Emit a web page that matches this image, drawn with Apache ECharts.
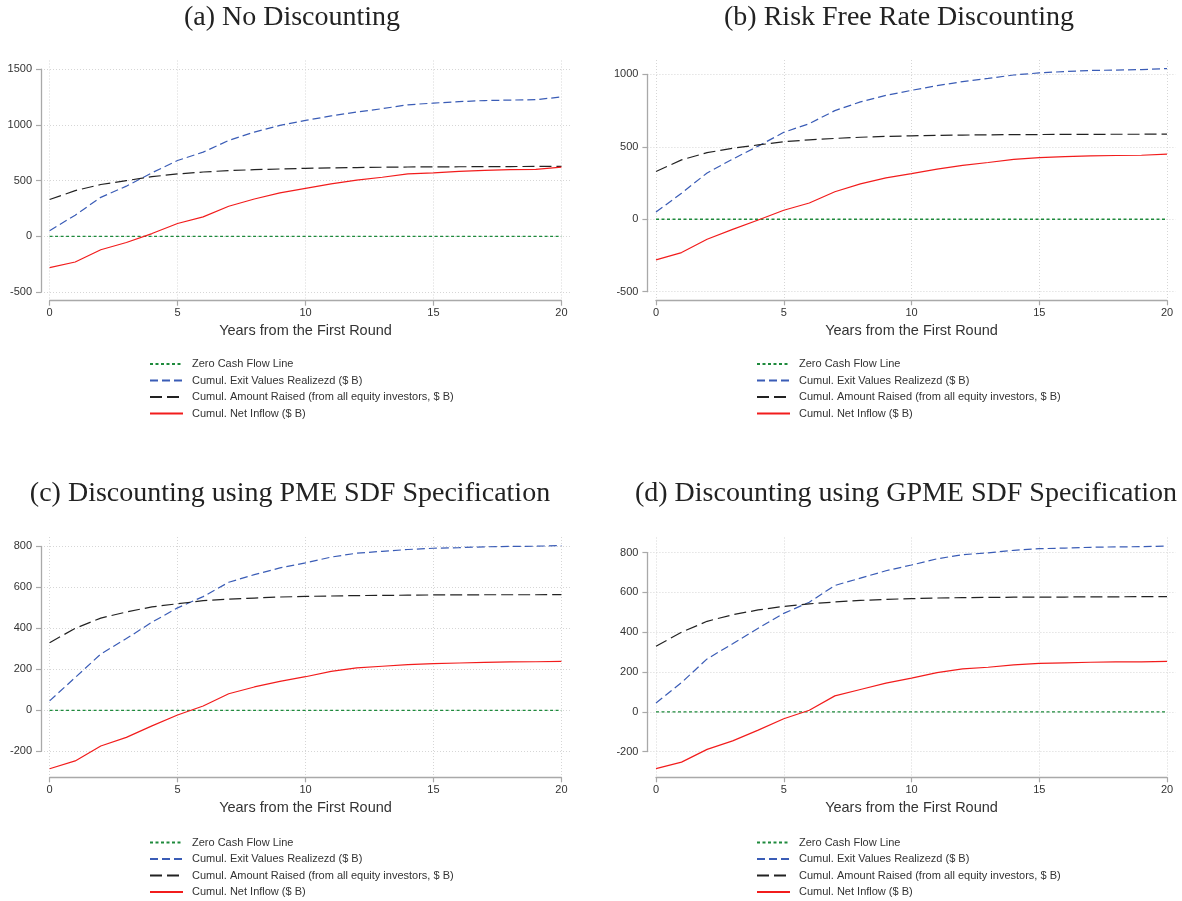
<!DOCTYPE html>
<html><head><meta charset="utf-8">
<script src="https://cdn.jsdelivr.net/npm/echarts@6/dist/echarts.min.js"></script>
<style>html,body{margin:0;padding:0;background:#fff}#c{width:1182px;height:901px}</style>
</head><body><div id="c"></div>
<script>
// ---------------- DATA ----------------
const years = [0,1,2,3,4,5,6,7,8,9,10,11,12,13,14,15,16,17,18,19,20];
const zeroLine = [0,0,0,0,0,0,0,0,0,0,0,0,0,0,0,0,0,0,0,0,0];
const xTicks = [0,5,10,15,20];
const seriesNames = ['Zero Cash Flow Line','Cumul. Exit Values Realizezd ($ B)','Cumul. Amount Raised (from all equity investors, $ B)','Cumul. Net Inflow ($ B)'];

// (a) No Discounting
const aExit   = [50,190,350,450,570,680,755,860,935,995,1040,1080,1115,1145,1180,1195,1208,1218,1222,1226,1250];
const aRaised = [330,410,465,500,535,560,577,590,598,604,610,614,617,620,622,623,624,625,626,627,628];
const aNet    = [-280,-230,-120,-55,25,115,175,270,335,390,430,470,505,530,560,570,582,592,598,600,620];
const aYTicks = [-500,0,500,1000,1500];

// (b) Risk Free Rate Discounting
const bExit   = [50,180,320,415,505,600,660,750,810,855,890,922,950,972,996,1010,1020,1027,1030,1033,1040];
const bRaised = [330,410,460,490,513,535,548,558,566,572,576,579,581,583,584,585,586,586,587,587,588];
const bNet    = [-280,-230,-138,-70,-5,62,112,190,244,286,315,346,372,392,414,425,433,438,440,442,450];
const bYTicks = [-500,0,500,1000];

// (c) PME SDF
const cExit   = [46,160,275,350,430,500,555,625,662,695,720,748,767,776,785,791,794,798,800,801,804];
const cRaised = [330,400,450,480,505,520,535,543,548,553,556,558,560,561,562,563,563,564,564,564,565];
const cNet    = [-285,-247,-174,-132,-76,-23,21,81,114,141,164,190,207,215,223,228,231,234,236,237,239];
const cYTicks = [-200,0,200,400,600,800];

// (d) GPME SDF
const dExit   = [44,147,266,342,420,495,551,635,672,709,738,769,790,799,812,820,823,827,829,830,833];
const dRaised = [330,400,455,488,512,530,543,552,560,565,569,572,574,575,576,577,577,578,578,579,579];
const dNet    = [-286,-253,-189,-146,-92,-35,8,80,112,144,169,197,216,224,236,243,246,249,251,251,254];
const dYTicks = [-200,0,200,400,600,800];

// ---------------- LAYOUT / STYLE ----------------
const panels = [
  {title:'(a) No Discounting', titleX:292, titleY:4, box:{l:41,r:570,t:60.5,b:300.7}, legendX:149, legendY:358.5,
   exit:aExit, raised:aRaised, net:aNet, yTicks:aYTicks},
  {title:'(b) Risk Free Rate Discounting', titleX:899, titleY:4, box:{l:647.4,r:1175.6,t:60,b:300.3}, legendX:756, legendY:358.5,
   exit:bExit, raised:bRaised, net:bNet, yTicks:bYTicks},
  {title:'(c) Discounting using PME SDF Specification', titleX:290, titleY:480, box:{l:41,r:570,t:537,b:777.3}, legendX:149, legendY:837,
   exit:cExit, raised:cRaised, net:cNet, yTicks:cYTicks},
  {title:'(d) Discounting using GPME SDF Specification', titleX:906, titleY:480, box:{l:647.4,r:1175.6,t:537.5,b:777.3}, legendX:756, legendY:837,
   exit:dExit, raised:dRaised, net:dNet, yTicks:dYTicks}
];
const W = 1182, H = 901;
const PAD = 8.6;
const sans = 'Liberation Sans, Arial, sans-serif';
const COL = {green:'#1e8a3c', blue:'#3a5cb6', black:'#222222', red:'#f21c1c', axis:'#a9a9a9', grid:'#d6d6d6', text:'#333333'};
const plain = v => String(v);

const grid = [], xAxis = [], yAxis = [], series = [], title = [], legend = [];

panels.forEach((p, i) => {
  const bx = p.box;
  const bw = bx.r - bx.l, bh = bx.b - bx.t;
  const all = p.exit.concat(p.raised, p.net, zeroLine, p.yTicks);
  const yLo = Math.min(...all), yHi = Math.max(...all);
  const ppu = (bh - 2*PAD) / (yHi - yLo);
  const yMin = yLo - PAD/ppu, yMax = yHi + PAD/ppu;
  const xLo = xTicks[0], xHi = xTicks[xTicks.length-1];
  const ppx = (bw - 2*PAD) / (xHi - xLo);
  const xMin = xLo - PAD/ppx, xMax = xHi + PAD/ppx;
  const tMin = p.yTicks[0], tMax = p.yTicks[p.yTicks.length-1];
  const yInt = p.yTicks[1] - p.yTicks[0];

  // plot region grid (gridlines + series)
  const gp = grid.length;
  grid.push({left:bx.l, top:bx.t, width:bw, height:bh, containLabel:false});
  xAxis.push({gridIndex:gp, type:'value', min:xMin, max:xMax,
    axisLine:{show:false, onZero:false}, axisTick:{show:false, customValues:xTicks}, axisLabel:{show:false, customValues:xTicks},
    splitLine:{show:true, lineStyle:{color:COL.grid, type:[1,2], width:1}}});
  yAxis.push({gridIndex:gp, type:'value', min:yMin, max:yMax,
    axisLine:{show:false, onZero:false}, axisTick:{show:false, customValues:p.yTicks}, axisLabel:{show:false, customValues:p.yTicks},
    splitLine:{show:true, lineStyle:{color:COL.grid, type:[1,2], width:1}}});

  // axis grid spanning tick range
  const ga = grid.length;
  const aTop = bx.t + (yMax - tMax)*ppu;
  const aBot = bx.t + (yMax - tMin)*ppu;
  grid.push({left:bx.l + PAD, top:aTop, width:bw - 2*PAD, height:aBot - aTop, containLabel:false});
  xAxis.push({gridIndex:ga, type:'value', min:xLo, max:xHi, interval:xTicks[1]-xTicks[0], position:'bottom',
    offset: bx.b - aBot,
    name:'Years from the First Round', nameLocation:'middle', nameGap:23,
    nameTextStyle:{fontFamily:sans, fontSize:14.5, color:COL.text},
    axisLine:{show:true, onZero:false, lineStyle:{color:COL.axis, width:1.3}},
    axisTick:{show:true, inside:false, length:5, lineStyle:{color:COL.axis, width:1.2}},
    axisLabel:{show:true, margin:7, fontFamily:sans, fontSize:11, color:COL.text, formatter:plain},
    splitLine:{show:false}});
  yAxis.push({gridIndex:ga, type:'value', min:tMin, max:tMax, interval:yInt, position:'left',
    offset: PAD,
    axisLine:{show:true, onZero:false, lineStyle:{color:COL.axis, width:1.3}},
    axisTick:{show:true, inside:false, length:5, lineStyle:{color:COL.axis, width:1.2}},
    axisLabel:{show:true, margin:9, fontFamily:sans, fontSize:11, color:COL.text, formatter:plain},
    splitLine:{show:false}});

  const mk = (name, vals, color, type, width, z) => ({
    name, type:'line', xAxisIndex:gp, yAxisIndex:gp, data: years.map((y,k)=>[y, vals[k]]),
    symbol:'none', smooth:false, animation:false, z,
    lineStyle:{color, type, width}, itemStyle:{color}, emphasis:{disabled:true}
  });
  series.push(mk(seriesNames[0], zeroLine, COL.green, [3,2.5], 1.3, 2));
  series.push(mk(seriesNames[1], p.exit, COL.blue, [8,4], 1.2, 3));
  series.push(mk(seriesNames[2], p.raised, COL.black, [12,5], 1.2, 4));
  series.push(mk(seriesNames[3], p.net, COL.red, 'solid', 1.2, 5));

  title.push({text:p.title, left:p.titleX, top:p.titleY, textAlign:'center', padding:0,
    textStyle:{fontFamily:'Liberation Serif, serif', fontWeight:'normal', fontSize:28, color:'#222'}});
  legend.push({orient:'vertical', left:p.legendX, top:p.legendY, padding:0, itemWidth:33, itemHeight:14, itemGap:5.3,
    selectedMode:false, data:seriesNames, itemStyle:{opacity:0, borderWidth:0},
    textStyle:{fontFamily:sans, fontSize:11, color:COL.text, padding:[0,0,0,4]}});
});

const chart = echarts.init(document.getElementById('c'), null, {renderer:'canvas', width:W, height:H});
chart.setOption({animation:false, backgroundColor:'#fff', title, legend, grid, xAxis, yAxis, series, tooltip:{show:false}});
</script></body></html>
